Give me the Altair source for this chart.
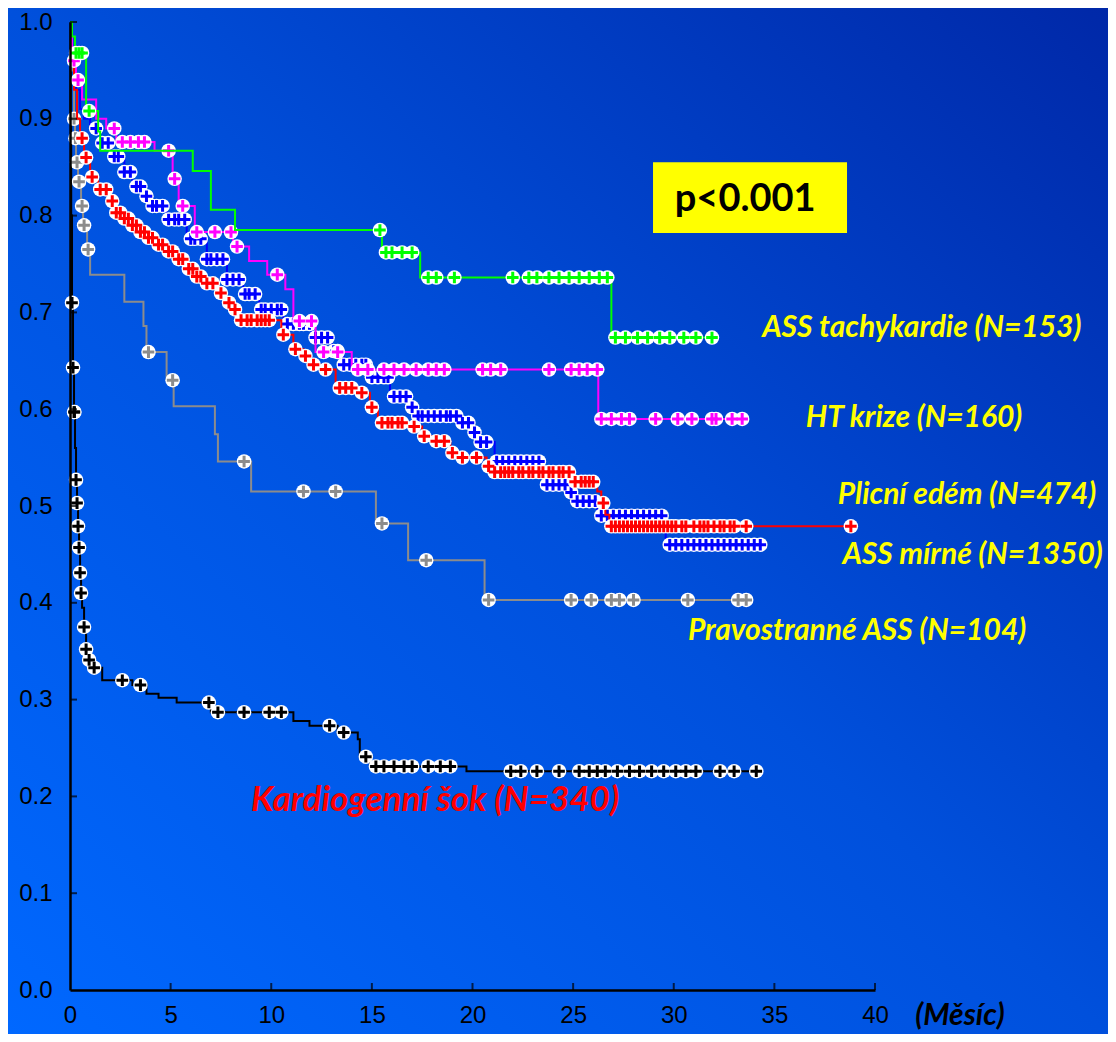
import altair as alt
import pandas as pd

# ---------------- data ----------------
series_names = ["Kardiogenní šok", "Pravostranné ASS", "ASS mírné", "Plicní edém", "HT krize", "ASS tachykardie"]
series_colors = ["#000000", "#8c8c8c", "#0000ff", "#ff0000", "#ff00ff", "#00ff00"]

green_t = [0, 0.1, 0.25, 0.8, 1.4, 1.5, 6.1, 7.0, 8.2, 15.5, 17.4, 26.9, 31.9]
green_s = [1.0, 0.985, 0.968, 0.908, 0.887, 0.867, 0.846, 0.806, 0.785, 0.762, 0.736, 0.674, 0.674]
green_c = [0.3, 0.45, 0.6, 0.95, 15.4, 15.7, 16.0, 16.5, 17.0, 17.8, 18.2, 19.1, 22.0, 22.8, 23.2,
           23.8, 24.3, 24.8, 25.3, 25.8, 26.3, 26.7, 27.1, 27.6, 28.2, 28.7, 29.3, 29.8, 30.5, 31.1, 31.9]

magenta_t = [0, 0.1, 0.3, 0.6, 1.3, 1.8, 2.3, 4.2, 5.1, 5.4, 6.2, 8.1, 8.9, 9.8, 10.7, 11.1, 12.2,
             14.0, 26.25, 33.4]
magenta_s = [1.0, 0.96, 0.94, 0.92, 0.9, 0.89, 0.876, 0.867, 0.838, 0.81, 0.783, 0.768, 0.753, 0.739,
             0.724, 0.691, 0.659, 0.641, 0.59, 0.59]
magenta_c = [0.2, 0.4, 2.2, 2.6, 3.0, 3.4, 3.7, 4.9, 5.2, 5.6, 6.3, 7.2, 8.0, 8.3, 10.3, 11.4, 12.0,
             12.6, 13.3, 14.3, 14.8, 15.6, 16.1, 16.6, 17.2, 17.8, 18.2, 18.6, 20.5, 20.9, 21.4, 23.8,
             24.9, 25.3, 25.7, 26.2, 26.4, 26.9, 27.4, 27.8, 29.1, 30.2, 30.9, 31.9, 32.1, 32.9, 33.4]

gray_t = [0, 0.1, 0.2, 0.25, 0.3, 0.4, 0.55, 0.65, 0.85, 1.0, 2.7, 3.65, 3.8, 4.8, 5.15, 7.2, 7.35,
          9.0, 15.2, 16.8, 20.6, 33.6]
gray_s = [1.0, 0.95, 0.9, 0.88, 0.855, 0.835, 0.81, 0.79, 0.765, 0.739, 0.711, 0.686, 0.659, 0.63,
          0.603, 0.574, 0.546, 0.515, 0.482, 0.444, 0.403, 0.403]
gray_c = [0.2, 0.27, 0.35, 0.45, 0.6, 0.7, 0.9, 3.9, 5.1, 8.65, 11.6, 13.2, 15.5, 17.7, 20.8, 24.9,
          25.9, 26.9, 27.3, 28.0, 30.7, 33.2, 33.6]

black_t = [0, 0.03, 0.06, 0.1, 0.15, 0.2, 0.25, 0.3, 0.35, 0.4, 0.45, 0.5, 0.55, 0.6, 0.7, 0.8, 0.9,
           1.1, 1.6, 3.1, 3.8, 4.4, 5.3, 7.0, 11.1, 11.9, 13.3, 14.3, 14.4, 14.9, 19.7, 34.1]
black_s = [1.0, 0.9, 0.8, 0.71, 0.643, 0.597, 0.56, 0.527, 0.503, 0.479, 0.457, 0.431, 0.41, 0.395,
           0.375, 0.352, 0.341, 0.333, 0.32, 0.315, 0.306, 0.302, 0.297, 0.287, 0.278, 0.273, 0.266,
           0.259, 0.241, 0.231, 0.226, 0.226]
black_c = [0.1, 0.15, 0.2, 0.22, 0.3, 0.35, 0.4, 0.45, 0.5, 0.55, 0.7, 0.8, 0.95, 1.2, 2.6, 3.5, 6.9,
           7.35, 8.65, 9.9, 10.5, 12.9, 13.6, 14.7, 15.2, 15.6, 16.1, 16.6, 17.0, 17.8, 18.4, 18.9,
           21.9, 22.4, 23.2, 24.3, 25.3, 25.8, 26.2, 26.6, 27.2, 27.8, 28.3, 28.9, 29.5, 30.1, 30.6,
           31.1, 32.3, 33.0, 34.1]

red_t = [0, 0.1, 0.2, 0.35, 0.5, 0.7, 1.0, 1.4, 1.9, 2.2, 2.6, 3.0, 3.4, 3.8, 4.3, 4.8, 5.3, 5.8, 6.2,
         6.6, 7.3, 7.7, 8.0, 8.3, 10.5, 11.1, 11.6, 11.9, 12.6, 13.2, 14.3, 14.9, 15.3, 16.9, 17.5,
         18.0, 18.9, 19.3, 20.7, 21.0, 25.0, 26.2, 26.4, 26.6, 26.8, 38.8]
red_s = [1.0, 0.96, 0.93, 0.9, 0.88, 0.86, 0.84, 0.827, 0.815, 0.803, 0.797, 0.79, 0.783, 0.777, 0.77,
         0.763, 0.755, 0.745, 0.737, 0.73, 0.72, 0.71, 0.703, 0.692, 0.677, 0.662, 0.655, 0.646, 0.641,
         0.622, 0.617, 0.602, 0.586, 0.582, 0.572, 0.567, 0.555, 0.55, 0.541, 0.535, 0.525, 0.515,
         0.503, 0.491, 0.479, 0.479]
red_c = [0.6, 0.8, 1.1, 1.5, 1.8, 2.1, 2.3, 2.5, 2.7, 2.9, 3.1, 3.3, 3.5, 3.7, 3.9, 4.1, 4.4, 4.6, 4.9,
         5.1, 5.4, 5.6, 5.9, 6.1, 6.3, 6.5, 6.8, 7.1, 7.5, 7.9, 8.2, 8.5, 8.8, 9.0, 9.3, 9.5, 9.7, 9.9,
         10.6, 11.2, 11.7, 12.1, 12.7, 13.4, 13.7, 14.0, 14.5, 15.0, 15.5, 15.8, 16.0, 16.3, 16.5,
         17.1, 17.6, 18.2, 18.6, 19.0, 19.5, 20.2, 20.8, 21.1, 21.4, 21.6, 21.8, 22.0, 22.3, 22.5,
         22.8, 23.0, 23.3, 23.5, 23.8, 24.0, 24.3, 24.5, 24.8, 25.1, 25.4, 25.6, 25.8, 26.0, 26.5,
         26.9, 27.1, 27.3, 27.5, 27.7, 27.9, 28.1, 28.3, 28.5, 28.7, 28.9, 29.1, 29.3, 29.5, 29.7,
         29.9, 30.1, 30.4, 30.6, 31.0, 31.3, 31.5, 31.7, 32.0, 32.3, 32.5, 32.8, 33.0, 33.6, 38.8]

blue_t = [0, 0.1, 0.2, 0.3, 0.5, 0.7, 1.0, 1.5, 2.1, 2.7, 3.1, 3.6, 4.0, 4.8, 5.8, 6.8, 7.8, 8.6, 9.4,
          10.6, 12.0, 13.0, 13.6, 14.8, 15.9, 16.9, 17.2, 19.4, 19.9, 20.3, 21.1, 23.5, 24.7, 25.2,
          26.2, 29.6, 34.4]
blue_s = [1.0, 0.97, 0.95, 0.93, 0.91, 0.9, 0.89, 0.875, 0.861, 0.845, 0.83, 0.82, 0.81, 0.796, 0.776,
          0.755, 0.734, 0.719, 0.703, 0.688, 0.674, 0.66, 0.646, 0.633, 0.613, 0.602, 0.593, 0.586,
          0.576, 0.566, 0.546, 0.522, 0.514, 0.505, 0.49, 0.46, 0.46]
blue_c = [1.3, 1.6, 1.9, 2.2, 2.4, 2.7, 3.0, 3.3, 3.5, 3.8, 4.1, 4.3, 4.6, 4.9, 5.2, 5.4, 5.7, 6.0, 6.2,
          6.5, 6.8, 7.0, 7.3, 7.6, 7.8, 8.1, 8.4, 8.7, 8.9, 9.2, 9.5, 9.7, 10.0, 10.3, 10.5, 10.8,
          11.1, 11.4, 11.6, 11.9, 12.2, 12.5, 12.8, 13.1, 13.3, 13.6, 13.9, 14.2, 14.5, 14.7, 15.0,
          15.3, 15.6, 15.8, 16.1, 16.4, 16.7, 17.0, 17.3, 17.5, 17.8, 18.1, 18.4, 18.7, 18.9, 19.2,
          19.5, 19.8, 20.1, 20.4, 20.7, 21.2, 21.5, 21.8, 22.1, 22.4, 22.7, 23.0, 23.3, 23.7, 24.0,
          24.3, 24.6, 24.9, 25.2, 25.5, 25.8, 26.1, 26.4, 26.7, 27.0, 27.3, 27.6, 27.9, 28.2, 28.5,
          28.8, 29.1, 29.4, 29.8, 30.1, 30.4, 30.7, 31.0, 31.3, 31.6, 31.9, 32.2, 32.5, 32.8, 33.1,
          33.4, 33.7, 34.0, 34.3]

curve_lists = {
    "Kardiogenní šok": (black_t, black_s, black_c),
    "Pravostranné ASS": (gray_t, gray_s, gray_c),
    "ASS mírné": (blue_t, blue_s, blue_c),
    "Plicní edém": (red_t, red_s, red_c),
    "HT krize": (magenta_t, magenta_s, magenta_c),
    "ASS tachykardie": (green_t, green_s, green_c),
}

label_text = ["ASS tachykardie (N=153)", "HT krize (N=160)", "Plicní edém (N=474)",
              "ASS mírné (N=1350)", "Pravostranné ASS (N=104)"]
label_x = [42.33, 41.94, 44.57, 44.85, 39.11]
label_y = [0.684, 0.591, 0.511, 0.449, 0.371]

x_ticks = [0, 5, 10, 15, 20, 25, 30, 35, 40]
y_ticks = [0.0, 0.1, 0.2, 0.3, 0.4, 0.5, 0.6, 0.7, 0.8, 0.9, 1.0]


def on_curve(ts, ss, c):
    v = ss[0]
    for t, s in zip(ts, ss):
        if t <= c:
            v = s
        else:
            break
    return v


W, H = 805, 968
PAD = {"left": 62, "top": 14, "right": 233, "bottom": 44}

x_scale = alt.Scale(domain=[0, 40], nice=False, zero=False)
y_scale = alt.Scale(domain=[0, 1], nice=False, zero=False)
x_axis = alt.Axis(values=x_ticks, title=None, grid=False, ticks=False, tickSize=0, domainColor="black",
                  domainWidth=2.5, labelColor="black", labelFont="Liberation Sans", labelFontSize=24,
                  labelPadding=13, zindex=1, labelFlush=False)
y_axis = alt.Axis(values=y_ticks, format=".1f", title=None, grid=False, ticks=False, tickSize=0,
                  domainColor="black", domainWidth=2.5, labelColor="black", labelFont="Liberation Sans",
                  labelFontSize=24, labelPadding=18, zindex=1, labelFlush=False)


def X(field="t"):
    return alt.X(f"{field}:Q", scale=x_scale, axis=x_axis)


def Y(field="s"):
    return alt.Y(f"{field}:Q", scale=y_scale, axis=y_axis)


# background gradient
bg = alt.Chart(pd.DataFrame({"a": [0]})).mark_rect(
    fill=alt.LinearGradient(
        gradient="linear",
        stops=[alt.GradientStop(color="#0068ff", offset=0),
               alt.GradientStop(color="#0050dc", offset=0.5),
               alt.GradientStop(color="#0028a8", offset=1)],
        x1=0, y1=1, x2=1, y2=0),
).encode(x=alt.value(-PAD["left"]), x2=alt.value(W + PAD["right"]),
         y=alt.value(-PAD["top"]), y2=alt.value(H + PAD["bottom"]))

cross_path = "M-1,0L1,0M0,-1L0,1"
layers = []
for name, color in zip(series_names, series_colors):
    ts, ss, cs = curve_lists[name]
    line_df = pd.DataFrame({"t": ts, "s": ss})
    cen_df = pd.DataFrame({"t": cs, "s": [on_curve(ts, ss, c) for c in cs]})
    line = alt.Chart(line_df).mark_line(interpolate="step-after", color=color, strokeWidth=2).encode(
        x=X(), y=Y())
    halo = alt.Chart(cen_df).mark_point(shape="circle", filled=True, color="white", opacity=1,
                                         size=210, strokeWidth=0).encode(x=X(), y=Y())
    cross = alt.Chart(cen_df).mark_point(shape=cross_path, filled=False, color=color, opacity=1,
                                          size=135, strokeWidth=3).encode(x=X(), y=Y())
    layers += [line, halo, cross]

# inward ticks
xt = alt.Chart(pd.DataFrame({"t": x_ticks[1:]})).mark_tick(
    color="black", thickness=2, size=7, orient="vertical").encode(x=X(), y=alt.value(H - 3.5))
yt = alt.Chart(pd.DataFrame({"s": y_ticks[1:]})).mark_tick(
    color="black", thickness=2, size=7, orient="horizontal").encode(y=Y(), x=alt.value(3.5))

# p-value box
box = alt.Chart(pd.DataFrame({"t": [28.97], "t2": [38.61], "s": [0.782], "s2": [0.855]})).mark_rect(
    color="#ffff00").encode(x=X(), x2="t2:Q", y=Y(), y2="s2:Q")
ptxt = alt.Chart(pd.DataFrame({"t": [33.55], "s": [0.816], "txt": ["p<0.001"]})).mark_text(
    font="Lato", fontWeight="bold", fontSize=38, color="black", baseline="middle", align="center"
).encode(x=X(), y=Y(), text="txt:N")

labels = alt.Chart(pd.DataFrame({"t": label_x, "s": label_y, "txt": label_text})).mark_text(
    font="Lato", fontWeight="bold", fontStyle="italic", fontSize=30, color="#ffff00",
    baseline="middle", align="center").encode(x=X(), y=Y(), text="txt:N")

shock = alt.Chart(pd.DataFrame({"t": [18.14], "s": [0.196], "txt": ["Kardiogenní šok (N=340)"]})).mark_text(
    font="Lato", fontWeight="bold", fontStyle="italic", fontSize=35, color="#ff0000",
    baseline="middle", align="center").encode(x=X(), y=Y(), text="txt:N")

mesic = alt.Chart(pd.DataFrame({"t": [44.22], "s": [-0.027], "txt": ["(Měsíc)"]})).mark_text(
    font="Lato", fontWeight="bold", fontStyle="italic", fontSize=30, color="black",
    baseline="middle", align="center").encode(x=X(), y=Y(), text="txt:N")

chart = alt.layer(bg, *layers, xt, yt, box, ptxt, labels, shock, mesic).properties(
    width=W, height=H, padding=PAD, autosize=alt.AutoSizeParams(type="none")
).configure(background="#0050d8").configure_view(stroke=None)

chart.save("out.html", embed_options={"renderer": "svg", "actions": False})
